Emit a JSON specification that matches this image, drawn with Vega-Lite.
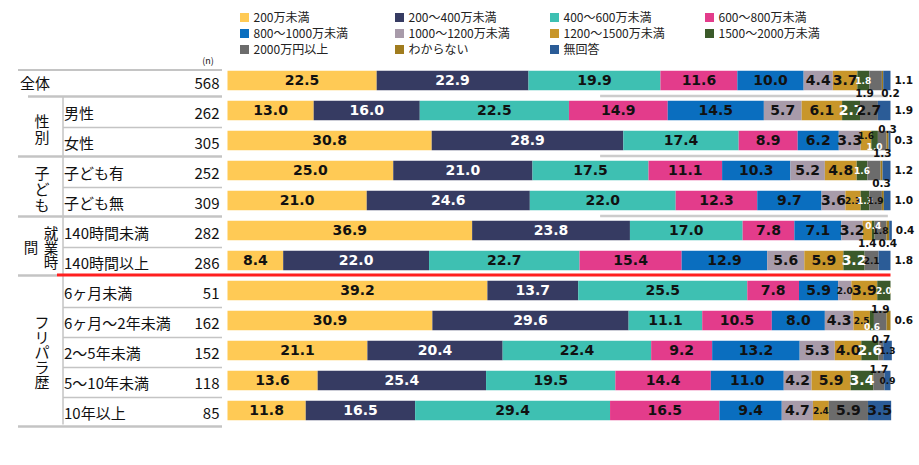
{
"$schema":"https://vega.github.io/schema/vega-lite/v6.json",
"width":663,"height":360,
"autosize":{"type":"none"},
"padding":{"left":227.5,"top":65.5,"right":28.5,"bottom":39.5},
"background":"white",
"config":{"view":{"stroke":null}},
"datasets":{
"seg":[
{"r":"全体","c":"200万未満","v":22.5},{"r":"全体","c":"200～400万未満","v":22.9},{"r":"全体","c":"400～600万未満","v":19.9},{"r":"全体","c":"600～800万未満","v":11.6},{"r":"全体","c":"800～1000万未満","v":10.0},{"r":"全体","c":"1000～1200万未満","v":4.4},{"r":"全体","c":"1200～1500万未満","v":3.7},{"r":"全体","c":"1500～2000万未満","v":1.8},{"r":"全体","c":"2000万円以上","v":1.9,"p":"bl"},{"r":"全体","c":"わからない","v":0.2,"p":"br"},{"r":"全体","c":"無回答","v":1.1,"p":"rt"},
{"r":"男性","c":"200万未満","v":13.0},{"r":"男性","c":"200～400万未満","v":16.0},{"r":"男性","c":"400～600万未満","v":22.5},{"r":"男性","c":"600～800万未満","v":14.9},{"r":"男性","c":"800～1000万未満","v":14.5},{"r":"男性","c":"1000～1200万未満","v":5.7},{"r":"男性","c":"1200～1500万未満","v":6.1},{"r":"男性","c":"1500～2000万未満","v":2.7},{"r":"男性","c":"2000万円以上","v":2.7},{"r":"男性","c":"無回答","v":1.9,"p":"rt"},
{"r":"女性","c":"200万未満","v":30.8},{"r":"女性","c":"200～400万未満","v":28.9},{"r":"女性","c":"400～600万未満","v":17.4},{"r":"女性","c":"600～800万未満","v":8.9},{"r":"女性","c":"800～1000万未満","v":6.2},{"r":"女性","c":"1000～1200万未満","v":3.3},{"r":"女性","c":"1200～1500万未満","v":1.6,"p":"hi"},{"r":"女性","c":"1500～2000万未満","v":1.0,"p":"lo"},{"r":"女性","c":"2000万円以上","v":1.3,"p":"be"},{"r":"女性","c":"わからない","v":0.3,"p":"ab"},{"r":"女性","c":"無回答","v":0.3,"p":"rt"},
{"r":"子ども有","c":"200万未満","v":25.0},{"r":"子ども有","c":"200～400万未満","v":21.0},{"r":"子ども有","c":"400～600万未満","v":17.5},{"r":"子ども有","c":"600～800万未満","v":11.1},{"r":"子ども有","c":"800～1000万未満","v":10.3},{"r":"子ども有","c":"1000～1200万未満","v":5.2},{"r":"子ども有","c":"1200～1500万未満","v":4.8},{"r":"子ども有","c":"1500～2000万未満","v":1.6},{"r":"子ども有","c":"2000万円以上","v":2.0,"p":"x"},{"r":"子ども有","c":"わからない","v":0.3,"p":"be"},{"r":"子ども有","c":"無回答","v":1.2,"p":"rt"},
{"r":"子ども無","c":"200万未満","v":21.0},{"r":"子ども無","c":"200～400万未満","v":24.6},{"r":"子ども無","c":"400～600万未満","v":22.0},{"r":"子ども無","c":"600～800万未満","v":12.3},{"r":"子ども無","c":"800～1000万未満","v":9.7},{"r":"子ども無","c":"1000～1200万未満","v":3.6},{"r":"子ども無","c":"1200～1500万未満","v":2.3},{"r":"子ども無","c":"1500～2000万未満","v":1.3},{"r":"子ども無","c":"2000万円以上","v":1.9},{"r":"子ども無","c":"わからない","v":0.3,"p":"x"},{"r":"子ども無","c":"無回答","v":1.0,"p":"rt"},
{"r":"140時間未満","c":"200万未満","v":36.9},{"r":"140時間未満","c":"200～400万未満","v":23.8},{"r":"140時間未満","c":"400～600万未満","v":17.0},{"r":"140時間未満","c":"600～800万未満","v":7.8},{"r":"140時間未満","c":"800～1000万未満","v":7.1},{"r":"140時間未満","c":"1000～1200万未満","v":3.2},{"r":"140時間未満","c":"1200～1500万未満","v":1.4,"p":"be"},{"r":"140時間未満","c":"1500～2000万未満","v":0.4,"p":"hi"},{"r":"140時間未満","c":"2000万円以上","v":1.8},{"r":"140時間未満","c":"わからない","v":0.4,"p":"be"},{"r":"140時間未満","c":"無回答","v":0.4,"p":"rt"},
{"r":"140時間以上","c":"200万未満","v":8.4},{"r":"140時間以上","c":"200～400万未満","v":22.0},{"r":"140時間以上","c":"400～600万未満","v":22.7},{"r":"140時間以上","c":"600～800万未満","v":15.4},{"r":"140時間以上","c":"800～1000万未満","v":12.9},{"r":"140時間以上","c":"1000～1200万未満","v":5.6},{"r":"140時間以上","c":"1200～1500万未満","v":5.9},{"r":"140時間以上","c":"1500～2000万未満","v":3.2},{"r":"140時間以上","c":"2000万円以上","v":2.1},{"r":"140時間以上","c":"無回答","v":1.8,"p":"rt"},
{"r":"6ヶ月未満","c":"200万未満","v":39.2},{"r":"6ヶ月未満","c":"200～400万未満","v":13.7},{"r":"6ヶ月未満","c":"400～600万未満","v":25.5},{"r":"6ヶ月未満","c":"600～800万未満","v":7.8},{"r":"6ヶ月未満","c":"800～1000万未満","v":5.9},{"r":"6ヶ月未満","c":"1000～1200万未満","v":2.0},{"r":"6ヶ月未満","c":"1200～1500万未満","v":3.9},{"r":"6ヶ月未満","c":"1500～2000万未満","v":2.0},
{"r":"6ヶ月～2年未満","c":"200万未満","v":30.9},{"r":"6ヶ月～2年未満","c":"200～400万未満","v":29.6},{"r":"6ヶ月～2年未満","c":"400～600万未満","v":11.1},{"r":"6ヶ月～2年未満","c":"600～800万未満","v":10.5},{"r":"6ヶ月～2年未満","c":"800～1000万未満","v":8.0},{"r":"6ヶ月～2年未満","c":"1000～1200万未満","v":4.3},{"r":"6ヶ月～2年未満","c":"1200～1500万未満","v":2.5},{"r":"6ヶ月～2年未満","c":"1500～2000万未満","v":0.6,"p":"lo"},{"r":"6ヶ月～2年未満","c":"2000万円以上","v":1.9,"p":"ab"},{"r":"6ヶ月～2年未満","c":"わからない","v":0.6,"p":"rt"},
{"r":"2～5年未満","c":"200万未満","v":21.1},{"r":"2～5年未満","c":"200～400万未満","v":20.4},{"r":"2～5年未満","c":"400～600万未満","v":22.4},{"r":"2～5年未満","c":"600～800万未満","v":9.2},{"r":"2～5年未満","c":"800～1000万未満","v":13.2},{"r":"2～5年未満","c":"1000～1200万未満","v":5.3},{"r":"2～5年未満","c":"1200～1500万未満","v":4.0},{"r":"2～5年未満","c":"1500～2000万未満","v":2.6},{"r":"2～5年未満","c":"2000万円以上","v":0.7,"p":"ab"},{"r":"2～5年未満","c":"無回答","v":1.3},
{"r":"5～10年未満","c":"200万未満","v":13.6},{"r":"5～10年未満","c":"200～400万未満","v":25.4},{"r":"5～10年未満","c":"400～600万未満","v":19.5},{"r":"5～10年未満","c":"600～800万未満","v":14.4},{"r":"5～10年未満","c":"800～1000万未満","v":11.0},{"r":"5～10年未満","c":"1000～1200万未満","v":4.2},{"r":"5～10年未満","c":"1200～1500万未満","v":5.9},{"r":"5～10年未満","c":"1500～2000万未満","v":3.4},{"r":"5～10年未満","c":"2000万円以上","v":1.7,"p":"ab"},{"r":"5～10年未満","c":"無回答","v":0.9},
{"r":"10年以上","c":"200万未満","v":11.8},{"r":"10年以上","c":"200～400万未満","v":16.5},{"r":"10年以上","c":"400～600万未満","v":29.4},{"r":"10年以上","c":"600～800万未満","v":16.5},{"r":"10年以上","c":"800～1000万未満","v":9.4},{"r":"10年以上","c":"1000～1200万未満","v":4.7},{"r":"10年以上","c":"1200～1500万未満","v":2.4},{"r":"10年以上","c":"2000万円以上","v":5.9},{"r":"10年以上","c":"無回答","v":3.5}
],
"rows":[
{"r":"全体","n":568},{"r":"男性","n":262},{"r":"女性","n":305},{"r":"子ども有","n":252},{"r":"子ども無","n":309},{"r":"140時間未満","n":282},{"r":"140時間以上","n":286},{"r":"6ヶ月未満","n":51},{"r":"6ヶ月～2年未満","n":162},{"r":"2～5年未満","n":152},{"r":"5～10年未満","n":118},{"r":"10年以上","n":85}
]
},
"layer":[
{
"data":{"values":[{"r":"全体"},{"r":"女性"},{"r":"子ども無"}]},
"mark":{"type":"rule","stroke":"#cccccc","strokeWidth":2.5,"yOffset":15.5},
"encoding":{"y":{"field":"r","type":"nominal","axis":null},"x":{"datum":56.2,"axis":null},"x2":{"datum":99.6}}
},
{
"data":{"name":"seg"},
"transform":[
{"window":[{"op":"row_number","as":"k"}],"groupby":["r"]},
{"stack":"v","groupby":["r"],"sort":[{"field":"k","order":"ascending"}],"as":["v0","v1"]},
{"calculate":"(datum.v0+datum.v1)/2","as":"mid"}
],
"layer":[
{
"mark":{"type":"bar"},
"encoding":{
"y":{"field":"r","type":"nominal","axis":null,"scale":{"type":"band","domain":["全体","男性","女性","子ども有","子ども無","140時間未満","140時間以上","6ヶ月未満","6ヶ月～2年未満","2～5年未満","5～10年未満","10年以上"],"paddingInner":0.35,"paddingOuter":0.175}},
"x":{"field":"v0","type":"quantitative","axis":null,"scale":{"domain":[0,100],"nice":false,"zero":true}},
"x2":{"field":"v1"},
"color":{"field":"c","type":"nominal",
"scale":{"domain":["200万未満","200～400万未満","400～600万未満","600～800万未満","800～1000万未満","1000～1200万未満","1200～1500万未満","1500～2000万未満","2000万円以上","わからない","無回答"],
"range":["#FFCA55","#363B62","#3EC0B2","#E33C8B","#0A6EBF","#A89BAA","#C8962A","#3B5A2A","#6C6C6C","#A07C1E","#2B5C97"]},
"legend":{"title":null,"orient":"none","legendX":11,"legendY":-54,"direction":"horizontal","columns":4,"gridAlign":"all","columnPadding":38,"rowPadding":4,"symbolType":"square","symbolSize":81,"symbolStrokeWidth":0,"labelFont":"Noto Sans CJK JP","labelFontSize":12,"labelColor":"#222","labelOffset":3,"labelLimit":200}}
}
},
{
"transform":[{"filter":"!datum.p"}],
"mark":{"type":"text","font":"DejaVu Sans","fontWeight":"bold","baseline":"middle","align":"center"},
"encoding":{
"y":{"field":"r","type":"nominal","axis":null},
"x":{"field":"mid","type":"quantitative","axis":null},
"text":{"field":"v","type":"quantitative","format":".1f"},
"color":{"condition":{"test":"datum.c==='200～400万未満'||datum.c==='1500～2000万未満'","value":"#ffffff"},"value":"#111111"},
"size":{"condition":{"test":"datum.v<2.6","value":9},"value":14}
}
},
{
"transform":[{"filter":"datum.p==='hi'"}],
"mark":{"type":"text","font":"DejaVu Sans","fontWeight":"bold","baseline":"middle","align":"center","dy":-5,"fontSize":9},
"encoding":{
"y":{"field":"r","type":"nominal","axis":null},
"x":{"field":"mid","type":"quantitative","axis":null},
"text":{"field":"v","type":"quantitative","format":".1f"},
"color":{"condition":{"test":"datum.c==='200～400万未満'||datum.c==='1500～2000万未満'","value":"#ffffff"},"value":"#111111"}
}
},
{
"transform":[{"filter":"datum.p==='lo'"}],
"mark":{"type":"text","font":"DejaVu Sans","fontWeight":"bold","baseline":"middle","align":"center","dy":6,"fontSize":9},
"encoding":{
"y":{"field":"r","type":"nominal","axis":null},
"x":{"field":"mid","type":"quantitative","axis":null},
"text":{"field":"v","type":"quantitative","format":".1f"},
"color":{"condition":{"test":"datum.c==='200～400万未満'||datum.c==='1500～2000万未満'","value":"#ffffff"},"value":"#111111"}
}
},
{
"transform":[{"filter":"datum.p==='ab'"}],
"mark":{"type":"text","font":"DejaVu Sans","fontWeight":"bold","baseline":"middle","align":"center","dy":-11,"fontSize":10.5,"color":"#111111"},
"encoding":{
"y":{"field":"r","type":"nominal","axis":null},
"x":{"field":"mid","type":"quantitative","axis":null},
"text":{"field":"v","type":"quantitative","format":".1f"}
}
},
{
"transform":[{"filter":"datum.p==='be'"}],
"mark":{"type":"text","font":"DejaVu Sans","fontWeight":"bold","baseline":"middle","align":"center","dy":13,"fontSize":10.5,"color":"#111111"},
"encoding":{
"y":{"field":"r","type":"nominal","axis":null},
"x":{"field":"mid","type":"quantitative","axis":null},
"text":{"field":"v","type":"quantitative","format":".1f"}
}
},
{
"transform":[{"filter":"datum.p==='bl'"}],
"mark":{"type":"text","font":"DejaVu Sans","fontWeight":"bold","baseline":"middle","align":"center","dy":13,"dx":-11,"fontSize":10.5,"color":"#111111"},
"encoding":{
"y":{"field":"r","type":"nominal","axis":null},
"x":{"field":"mid","type":"quantitative","axis":null},
"text":{"field":"v","type":"quantitative","format":".1f"}
}
},
{
"transform":[{"filter":"datum.p==='br'"}],
"mark":{"type":"text","font":"DejaVu Sans","fontWeight":"bold","baseline":"middle","align":"center","dy":13,"dx":8,"fontSize":10.5,"color":"#111111"},
"encoding":{
"y":{"field":"r","type":"nominal","axis":null},
"x":{"field":"mid","type":"quantitative","axis":null},
"text":{"field":"v","type":"quantitative","format":".1f"}
}
},
{
"transform":[{"filter":"datum.p==='rt'"}],
"mark":{"type":"text","font":"DejaVu Sans","fontWeight":"bold","baseline":"middle","align":"left","dx":4,"fontSize":10.5,"color":"#111111"},
"encoding":{
"y":{"field":"r","type":"nominal","axis":null},
"x":{"field":"v1","type":"quantitative","axis":null},
"text":{"field":"v","type":"quantitative","format":".1f"}
}
}
]
},
{
"data":{"values":[{"r":"全体"}]},
"mark":{"type":"rule","stroke":"#c4c4c4","strokeWidth":2,"yOffset":-10.5},
"encoding":{"y":{"field":"r","type":"nominal","axis":null},"x":{"datum":-31.6,"axis":null},"x2":{"datum":-0.83}}
},
{
"data":{"values":[{"r":"全体"}]},
"mark":{"type":"rule","stroke":"#c4c4c4","strokeWidth":2.5,"yOffset":16},
"encoding":{"y":{"field":"r","type":"nominal","axis":null},"x":{"datum":-30.09,"axis":null},"x2":{"datum":-0.83}}
},
{
"data":{"values":[{"r":"女性"},{"r":"子ども無"},{"r":"10年以上"}]},
"mark":{"type":"rule","stroke":"#c4c4c4","strokeWidth":2.5,"yOffset":16},
"encoding":{"y":{"field":"r","type":"nominal","axis":null},"x":{"datum":-31.6,"axis":null},"x2":{"datum":-0.83}}
},
{
"data":{"values":[{"r":"男性"},{"r":"子ども有"},{"r":"140時間未満"},{"r":"6ヶ月未満"},{"r":"6ヶ月～2年未満"},{"r":"2～5年未満"},{"r":"5～10年未満"}]},
"mark":{"type":"rule","stroke":"#c4c4c4","strokeWidth":1.5,"yOffset":17},
"encoding":{"y":{"field":"r","type":"nominal","axis":null},"x":{"datum":-24.81,"axis":null},"x2":{"datum":-0.83}}
},
{
"data":{"values":[{"r":"140時間以上"}]},
"mark":{"type":"rule","stroke":"#c4c4c4","strokeWidth":2.5,"yOffset":15},
"encoding":{"y":{"field":"r","type":"nominal","axis":null},"x":{"datum":-31.6,"axis":null},"x2":{"datum":-25.72}}
},
{
"data":{"values":[{"r0":"男性","r1":"10年以上"}]},
"mark":{"type":"rule","stroke":"#c4c4c4","strokeWidth":1.5,"yOffset":-14,"y2Offset":14},
"encoding":{"y":{"field":"r0","type":"nominal","axis":null},"y2":{"field":"r1"},"x":{"datum":-24.81,"axis":null}}
},
{
"data":{"values":[{"r":"140時間以上"}]},
"mark":{"type":"rule","stroke":"#ff1f1f","strokeWidth":3,"yOffset":14.5},
"encoding":{"y":{"field":"r","type":"nominal","axis":null},"x":{"datum":-25.72,"axis":null},"x2":{"datum":100}}
},
{
"data":{"name":"rows"},
"transform":[{"filter":"datum.r==='全体'"}],
"mark":{"type":"text","font":"Noto Sans CJK JP","fontSize":15,"align":"left","baseline":"middle","dy":3,"color":"#111"},
"encoding":{"y":{"field":"r","type":"nominal","axis":null},"x":{"datum":-31.3,"axis":null},"text":{"field":"r"}}
},
{
"data":{"name":"rows"},
"transform":[{"filter":"datum.r!=='全体'"}],
"mark":{"type":"text","font":"Noto Sans CJK JP","fontSize":15,"align":"left","baseline":"middle","dy":3,"color":"#111"},
"encoding":{"y":{"field":"r","type":"nominal","axis":null},"x":{"datum":-24.66,"axis":null},"text":{"field":"r"}}
},
{
"data":{"name":"rows"},
"mark":{"type":"text","font":"Noto Sans CJK JP","fontSize":15,"align":"right","baseline":"middle","dy":3,"color":"#111"},
"encoding":{"y":{"field":"r","type":"nominal","axis":null},"x":{"datum":-1.21,"axis":null},"text":{"field":"n","type":"quantitative"}}
},
{
"data":{"values":[{"r":"全体","t":"(n)"}]},
"mark":{"type":"text","font":"Noto Sans CJK JP","fontSize":9,"align":"center","baseline":"middle","dy":-20,"color":"#111"},
"encoding":{"y":{"field":"r","type":"nominal","axis":null},"x":{"datum":-2.94,"axis":null},"text":{"field":"t"}}
},
{
"data":{"values":[{"r":"男性","g":"性\n別"}]},
"mark":{"type":"text","font":"Noto Sans CJK JP","fontSize":15,"align":"center","baseline":"middle","lineBreak":"\n","lineHeight":15.5,"dy":11.5,"color":"#111"},
"encoding":{"y":{"field":"r","type":"nominal","axis":null},"x":{"datum":-27.98,"axis":null},"text":{"field":"g"}}
},
{
"data":{"values":[{"r":"子ども有","g":"子\nど\nも"}]},
"mark":{"type":"text","font":"Noto Sans CJK JP","fontSize":15,"align":"center","baseline":"middle","lineBreak":"\n","lineHeight":16,"dy":3,"color":"#111"},
"encoding":{"y":{"field":"r","type":"nominal","axis":null},"x":{"datum":-27.98,"axis":null},"text":{"field":"g"}}
},
{
"data":{"values":[{"r":"140時間未満","g":"就\n業\n時"}]},
"mark":{"type":"text","font":"Noto Sans CJK JP","fontSize":14.5,"align":"center","baseline":"middle","lineBreak":"\n","lineHeight":14.5,"dy":4.5,"color":"#111"},
"encoding":{"y":{"field":"r","type":"nominal","axis":null},"x":{"datum":-26.62,"axis":null},"text":{"field":"g"}}
},
{
"data":{"values":[{"r":"140時間未満","g":"間"}]},
"mark":{"type":"text","font":"Noto Sans CJK JP","fontSize":14.5,"align":"center","baseline":"middle","dy":18,"color":"#111"},
"encoding":{"y":{"field":"r","type":"nominal","axis":null},"x":{"datum":-29.64,"axis":null},"text":{"field":"g"}}
},
{
"data":{"values":[{"r":"2～5年未満","g":"フ\nリ\nパ\nラ\n歴"}]},
"mark":{"type":"text","font":"Noto Sans CJK JP","fontSize":15,"align":"center","baseline":"middle","lineBreak":"\n","lineHeight":15,"dy":-27.5,"color":"#111"},
"encoding":{"y":{"field":"r","type":"nominal","axis":null},"x":{"datum":-27.98,"axis":null},"text":{"field":"g"}}
}
]
}
